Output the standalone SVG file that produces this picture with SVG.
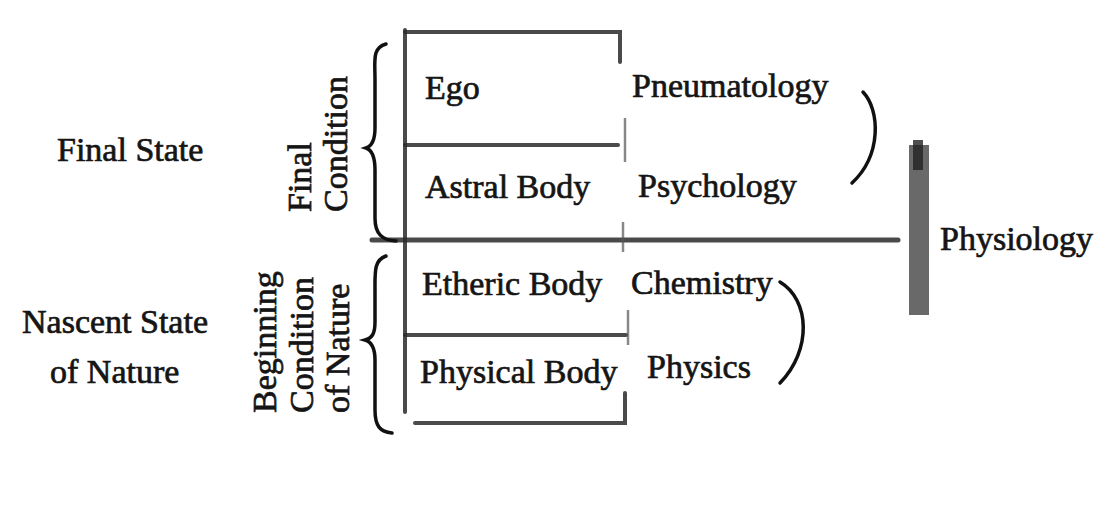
<svg xmlns="http://www.w3.org/2000/svg" width="1099" height="508" viewBox="0 0 1099 508">
<style>
text{font-family:"Liberation Serif","Times New Roman",serif;font-size:34px;fill:#151515;stroke:#151515;stroke-width:0.7}
.chalk{stroke:#2a2a2a;stroke-width:4;fill:none;stroke-linecap:round;opacity:.85}
.thin{stroke:#555;stroke-width:2.5;fill:none;opacity:.7}
.brace{stroke:#111;stroke-width:3.5;fill:none;stroke-linecap:round}
</style>
<rect width="1099" height="508" fill="#fff"/>
<g id="connectors">
<path class="chalk" d="M405 30 V412"/>
<path class="chalk" d="M405 32 H620 V62"/>
<path class="chalk" d="M405 145 H618"/>
<path class="thin" d="M625 118 V162"/>
<path class="chalk" d="M372 240 H898" style="stroke-width:5"/>
<path class="thin" d="M623 222 V252"/>
<path class="chalk" d="M405 335 H626"/>
<path class="thin" d="M628 310 V345"/>
<path class="chalk" d="M415 423 H625 V393"/>
<rect x="909" y="145" width="20" height="170" fill="#444" opacity=".8"/>
<rect x="913" y="140" width="10" height="30" fill="#222" opacity=".8"/>
<path class="brace" d="M386 44 C372 48 375 60 375 80 L375 128 C375 140 372 146 366 148 C372 150 375 158 375 170 L375 218 C375 234 382 240 396 241"/>
<path class="brace" d="M386 256 C374 260 375 272 375 290 L375 322 C375 334 372 338 365 340 C372 342 375 348 375 360 L375 410 C375 426 380 432 392 433"/>
<path class="brace" d="M863 92 C880 110 882 155 852 183"/>
<path class="brace" d="M780 282 C810 300 812 350 780 383"/>
</g>
<g id="final-state"><text x="57" y="161">Final State</text></g>
<g id="nascent-state"><text x="22" y="333">Nascent State</text><text x="50" y="383">of Nature</text></g>
<g id="final-condition">
<text transform="translate(311 212) rotate(-90)">Final</text>
<text transform="translate(347 212) rotate(-90)">Condition</text>
</g>
<g id="beginning-condition">
<text transform="translate(276 413) rotate(-90)">Beginning</text>
<text transform="translate(313 413) rotate(-90)">Condition</text>
<text transform="translate(349 413) rotate(-90)">of Nature</text>
</g>
<g id="ego"><text x="425" y="99">Ego</text></g>
<g id="astral-body"><text x="425" y="198">Astral Body</text></g>
<g id="etheric-body"><text x="422" y="295">Etheric Body</text></g>
<g id="physical-body"><text x="420" y="383">Physical Body</text></g>
<g id="pneumatology"><text x="632" y="97">Pneumatology</text></g>
<g id="psychology"><text x="638" y="197">Psychology</text></g>
<g id="chemistry"><text x="631" y="294">Chemistry</text></g>
<g id="physics"><text x="647" y="378">Physics</text></g>
<g id="physiology"><text x="940" y="250">Physiology</text></g>
</svg>
